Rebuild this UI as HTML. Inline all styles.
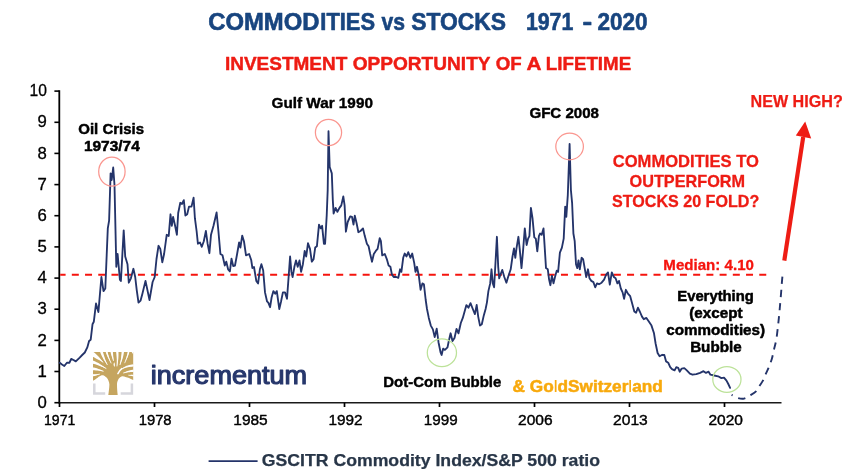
<!DOCTYPE html>
<html lang="en"><head><meta charset="utf-8"><title>Commodities vs Stocks 1971 - 2020</title>
<style>html,body{margin:0;padding:0;background:#fff}body{width:854px;height:469px;overflow:hidden}svg{display:block}text{font-family:"Liberation Sans",Arial,Helvetica,sans-serif}.b{font-weight:bold}.n{font-weight:normal}</style></head><body>
<svg width="854" height="469" viewBox="0 0 854 469" role="img" aria-label="Commodities vs Stocks 1971 - 2020">
<rect width="854" height="469" fill="#fff"/>
<g>
<text y="30.1" font-size="23.2" fill="#18457f" class="b" stroke="#18457f" stroke-width="0.6" stroke-linejoin="round"><tspan x="208.30" textLength="111.13" lengthAdjust="spacingAndGlyphs">COMMOD</tspan><tspan x="320.30" textLength="54.71" lengthAdjust="spacingAndGlyphs">ITIES</tspan> <tspan x="381.40" textLength="23.50" lengthAdjust="spacingAndGlyphs">vs</tspan> <tspan x="411.20" textLength="94.78" lengthAdjust="spacingAndGlyphs">STOCKS</tspan> <tspan x="525.90" textLength="47.39" lengthAdjust="spacingAndGlyphs">1971</tspan> <tspan x="582.40" textLength="9.71" lengthAdjust="spacingAndGlyphs">-</tspan> <tspan x="597.50" textLength="50.09" lengthAdjust="spacingAndGlyphs">2020</tspan></text>
<text y="70.4" font-size="18.5" fill="#ee1c14" class="b" stroke="#ee1c14" stroke-width="0.45" stroke-linejoin="round"><tspan x="224.93" textLength="122.35" lengthAdjust="spacingAndGlyphs">INVESTMENT</tspan> <tspan x="352.73" textLength="137.46" lengthAdjust="spacingAndGlyphs">OPPORTUNITY</tspan> <tspan x="495.73" textLength="25.97" lengthAdjust="spacingAndGlyphs">OF</tspan> <tspan x="526.52" textLength="14.24" lengthAdjust="spacingAndGlyphs">A</tspan> <tspan x="545.82" textLength="85.36" lengthAdjust="spacingAndGlyphs">LIFETIME</tspan></text>
<g stroke="#000" fill="none">
<path d="M59.3 90.3V403.4" stroke-width="1.8"/>
<path d="M59.3 402.7H781.5" stroke-width="1.5" stroke="#1a1a1a"/>
<path d="M54.4 402.7H59.3" stroke-width="1.6"/>
<path d="M54.4 371.5H59.3" stroke-width="1.6"/>
<path d="M54.4 340.4H59.3" stroke-width="1.6"/>
<path d="M54.4 309.2H59.3" stroke-width="1.6"/>
<path d="M54.4 278.1H59.3" stroke-width="1.6"/>
<path d="M54.4 246.9H59.3" stroke-width="1.6"/>
<path d="M54.4 215.7H59.3" stroke-width="1.6"/>
<path d="M54.4 184.6H59.3" stroke-width="1.6"/>
<path d="M54.4 153.4H59.3" stroke-width="1.6"/>
<path d="M54.4 122.3H59.3" stroke-width="1.6"/>
<path d="M54.4 91.1H59.3" stroke-width="1.6"/>
<path d="M59.5 402.7V407.0" stroke-width="1.7"/>
<path d="M154.5 402.7V407.0" stroke-width="1.7"/>
<path d="M249.5 402.7V407.0" stroke-width="1.7"/>
<path d="M344.5 402.7V407.0" stroke-width="1.7"/>
<path d="M439.5 402.7V407.0" stroke-width="1.7"/>
<path d="M534.5 402.7V407.0" stroke-width="1.7"/>
<path d="M629.5 402.7V407.0" stroke-width="1.7"/>
<path d="M724.5 402.7V407.0" stroke-width="1.7"/>
</g>
<text x="37.55" y="407.8" font-size="16.6" fill="#000" textLength="9.32" lengthAdjust="spacingAndGlyphs" stroke="#000" stroke-width="0.3" stroke-linejoin="round" xml:space="preserve">0</text>
<text x="37.55" y="376.6" font-size="16.6" fill="#000" textLength="9.32" lengthAdjust="spacingAndGlyphs" stroke="#000" stroke-width="0.3" stroke-linejoin="round" xml:space="preserve">1</text>
<text x="37.55" y="345.5" font-size="16.6" fill="#000" textLength="9.32" lengthAdjust="spacingAndGlyphs" stroke="#000" stroke-width="0.3" stroke-linejoin="round" xml:space="preserve">2</text>
<text x="37.55" y="314.3" font-size="16.6" fill="#000" textLength="9.32" lengthAdjust="spacingAndGlyphs" stroke="#000" stroke-width="0.3" stroke-linejoin="round" xml:space="preserve">3</text>
<text x="37.55" y="283.2" font-size="16.6" fill="#000" textLength="9.32" lengthAdjust="spacingAndGlyphs" stroke="#000" stroke-width="0.3" stroke-linejoin="round" xml:space="preserve">4</text>
<text x="37.55" y="252.0" font-size="16.6" fill="#000" textLength="9.32" lengthAdjust="spacingAndGlyphs" stroke="#000" stroke-width="0.3" stroke-linejoin="round" xml:space="preserve">5</text>
<text x="37.55" y="220.8" font-size="16.6" fill="#000" textLength="9.32" lengthAdjust="spacingAndGlyphs" stroke="#000" stroke-width="0.3" stroke-linejoin="round" xml:space="preserve">6</text>
<text x="37.55" y="189.7" font-size="16.6" fill="#000" textLength="9.32" lengthAdjust="spacingAndGlyphs" stroke="#000" stroke-width="0.3" stroke-linejoin="round" xml:space="preserve">7</text>
<text x="37.55" y="158.5" font-size="16.6" fill="#000" textLength="9.32" lengthAdjust="spacingAndGlyphs" stroke="#000" stroke-width="0.3" stroke-linejoin="round" xml:space="preserve">8</text>
<text x="37.55" y="127.4" font-size="16.6" fill="#000" textLength="9.32" lengthAdjust="spacingAndGlyphs" stroke="#000" stroke-width="0.3" stroke-linejoin="round" xml:space="preserve">9</text>
<text x="29.45" y="96.2" font-size="16.6" fill="#000" textLength="17.40" lengthAdjust="spacingAndGlyphs" stroke="#000" stroke-width="0.3" stroke-linejoin="round" xml:space="preserve">10</text>
<text x="44.00" y="424.8" font-size="14.7" fill="#000" textLength="31.30" lengthAdjust="spacingAndGlyphs" stroke="#000" stroke-width="0.4" stroke-linejoin="round" xml:space="preserve">1971</text>
<text x="138.70" y="424.8" font-size="14.7" fill="#000" textLength="32.90" lengthAdjust="spacingAndGlyphs" stroke="#000" stroke-width="0.4" stroke-linejoin="round" xml:space="preserve">1978</text>
<text x="233.30" y="424.8" font-size="14.7" fill="#000" textLength="34.40" lengthAdjust="spacingAndGlyphs" stroke="#000" stroke-width="0.4" stroke-linejoin="round" xml:space="preserve">1985</text>
<text x="328.50" y="424.8" font-size="14.7" fill="#000" textLength="34.10" lengthAdjust="spacingAndGlyphs" stroke="#000" stroke-width="0.4" stroke-linejoin="round" xml:space="preserve">1992</text>
<text x="423.80" y="424.8" font-size="14.7" fill="#000" textLength="33.80" lengthAdjust="spacingAndGlyphs" stroke="#000" stroke-width="0.4" stroke-linejoin="round" xml:space="preserve">1999</text>
<text x="518.00" y="424.8" font-size="14.7" fill="#000" textLength="34.60" lengthAdjust="spacingAndGlyphs" stroke="#000" stroke-width="0.4" stroke-linejoin="round" xml:space="preserve">2006</text>
<text x="613.10" y="424.8" font-size="14.7" fill="#000" textLength="34.70" lengthAdjust="spacingAndGlyphs" stroke="#000" stroke-width="0.4" stroke-linejoin="round" xml:space="preserve">2013</text>
<text x="708.40" y="424.8" font-size="14.7" fill="#000" textLength="34.50" lengthAdjust="spacingAndGlyphs" stroke="#000" stroke-width="0.4" stroke-linejoin="round" xml:space="preserve">2020</text>
<path d="M60.2 274.7H766.4" stroke="#f5140e" stroke-width="1.9" stroke-dasharray="7 6.22" stroke-dashoffset="1.6" fill="none"/>
<polyline points="59.7,362.7 62.0,364.5 64.3,366.0 66.9,362.7 69.5,362.7 71.2,358.9 73.5,360.0 75.8,361.4 79.7,357.6 82.2,355.0 84.8,352.5 87.3,347.4 89.1,341.0 90.7,339.7 92.5,324.3 93.8,321.8 96.0,303.5 98.4,312.0 101.4,277.0 103.5,291.1 105.3,288.5 107.8,228.4 109.1,220.7 110.6,173.4 111.7,180.0 113.2,167.5 114.5,185.0 116.3,266.8 117.6,254.0 119.9,279.6 120.9,281.0 123.7,230.4 125.2,256.5 127.5,264.2 128.8,282.7 130.9,278.3 133.4,268.8 135.2,277.0 136.7,289.8 138.5,302.6 140.6,300.6 142.4,293.7 145.5,280.9 149.5,300.0 152.6,282.0 154.7,277.0 156.5,259.0 158.5,245.8 160.3,248.9 162.3,262.4 164.1,254.0 166.7,234.8 168.7,236.0 170.5,214.3 171.8,225.8 173.1,216.9 175.1,225.8 176.9,234.8 178.2,213.0 180.3,202.8 182.0,204.0 183.8,200.2 185.4,215.6 187.2,214.3 189.0,206.6 191.5,206.6 193.6,197.7 194.9,218.2 196.6,231.0 197.9,243.7 200.0,242.5 201.8,246.8 203.8,241.2 205.9,231.0 207.6,243.7 209.4,253.2 211.0,234.8 213.5,225.8 216.6,212.5 218.4,231.0 220.4,254.0 222.5,255.3 224.8,265.5 226.3,261.7 228.1,269.3 229.9,271.4 231.5,258.6 233.2,266.0 235.0,265.5 237.1,254.0 239.1,242.5 240.4,247.6 242.2,235.6 244.0,241.5 246.0,255.3 249.1,254.0 251.2,260.0 252.4,268.0 254.0,267.0 256.3,280.9 258.1,283.4 259.9,269.3 261.4,264.2 263.2,270.6 265.0,292.4 267.0,301.3 268.3,302.6 270.1,307.2 271.6,297.5 273.4,291.1 275.2,293.7 276.8,291.1 279.3,309.0 281.1,301.3 282.9,292.4 285.0,292.4 287.0,298.8 288.8,274.5 290.1,256.5 291.4,271.9 292.6,277.0 294.4,266.8 296.0,260.4 297.7,266.8 299.5,260.4 301.1,271.9 302.9,264.2 304.7,250.9 306.2,256.5 308.0,243.2 310.0,248.9 311.8,261.7 313.6,259.1 315.2,247.6 316.9,246.3 319.0,224.6 320.8,228.4 322.1,225.8 323.9,243.7 325.1,243.7 326.7,215.6 327.7,190.0 328.5,131.2 329.7,167.0 331.8,173.4 332.8,200.0 333.6,213.5 335.6,207.9 337.4,211.8 339.5,207.9 341.3,205.4 343.3,196.4 344.6,205.4 345.9,231.7 347.7,222.0 350.2,216.4 352.0,216.9 353.5,224.6 354.8,215.6 356.6,223.3 358.4,232.2 360.5,231.0 363.0,228.4 364.8,236.1 366.9,243.7 368.6,246.3 370.2,254.0 372.0,261.7 373.8,254.0 375.8,250.9 377.6,248.9 379.7,238.1 380.9,241.2 382.2,255.3 384.8,254.0 386.8,259.1 388.6,265.5 390.4,266.8 391.9,274.5 393.7,277.0 396.3,277.0 398.3,277.8 400.1,269.3 401.4,271.9 403.2,257.8 404.7,253.5 406.5,256.5 408.3,252.2 410.4,257.8 412.2,253.5 414.2,262.9 415.5,271.9 417.0,266.8 418.8,275.7 420.6,289.8 422.4,283.4 423.9,284.2 425.7,300.0 427.0,309.0 428.8,317.9 430.8,325.6 432.9,329.4 434.7,337.1 436.7,328.7 438.5,342.2 440.6,352.5 441.6,355.0 443.1,348.6 444.9,349.9 447.5,347.4 448.8,341.0 450.6,333.3 452.5,341.0 454.5,338.0 456.5,329.0 458.5,333.3 460.8,323.0 462.8,317.9 464.6,311.5 466.4,305.1 468.5,307.7 470.5,303.1 472.8,309.0 474.9,314.1 476.7,305.0 478.2,316.6 480.0,325.6 481.8,324.3 483.8,315.4 485.6,309.0 486.9,302.6 488.4,291.1 490.2,283.4 491.5,269.3 492.8,283.4 494.1,287.3 495.4,264.2 496.9,236.8 498.2,266.8 499.2,278.3 500.5,274.5 502.3,269.9 504.3,277.0 506.4,282.7 508.1,277.0 510.7,269.3 512.5,256.5 514.0,248.4 515.3,257.8 516.6,247.6 518.4,236.8 519.7,248.9 521.5,268.1 523.0,251.4 524.8,228.4 526.6,245.0 528.1,238.6 529.4,236.1 530.9,207.9 532.5,218.2 534.3,237.4 535.8,238.6 537.3,251.4 538.9,236.1 540.1,233.5 541.7,234.8 543.5,228.4 544.8,248.9 546.0,268.1 547.8,269.3 549.1,279.6 550.4,285.2 551.9,275.7 553.5,283.4 555.0,277.0 556.8,270.6 558.1,271.9 559.9,252.7 561.9,247.6 563.7,238.6 565.2,206.6 566.3,216.9 567.8,195.1 569.6,144.0 570.9,190.0 572.1,202.8 573.4,233.5 574.7,241.2 576.0,264.2 577.3,268.1 578.5,260.4 579.8,269.3 581.6,257.8 583.1,259.1 584.9,269.3 586.2,277.0 588.0,269.3 589.5,278.3 591.3,280.9 593.4,282.1 595.2,287.3 597.0,283.4 599.0,284.2 601.6,282.7 604.1,279.6 606.2,274.5 608.0,272.4 609.8,284.7 611.8,272.4 613.9,277.0 615.6,278.3 617.4,283.4 619.0,280.9 620.8,288.5 622.6,292.4 624.1,298.8 625.9,289.8 627.9,293.7 630.2,296.2 632.3,304.0 634.3,311.5 636.1,312.8 637.9,307.7 640.0,312.0 642.0,316.6 643.8,319.2 646.4,317.9 649.0,321.8 651.5,325.6 654.0,333.3 655.6,343.5 657.6,353.0 659.6,356.3 662.3,354.8 664.3,355.0 666.1,361.4 668.2,362.7 670.2,367.1 672.0,369.1 674.6,370.4 676.3,367.1 678.2,367.8 679.7,371.7 681.7,368.6 684.3,368.1 686.8,370.4 689.9,373.7 692.5,374.7 696.3,374.2 700.1,372.9 703.5,371.2 706.0,372.9 708.6,371.7 710.4,374.7 714.2,375.5 718.1,376.3 721.4,378.1 724.0,377.6 726.5,380.6 728.3,384.0 730.1,387.8" fill="none" stroke="#24346a" stroke-width="1.85" stroke-linejoin="round" stroke-linecap="round"/>
<path d="M782.4 276.7C782.2 278.5 781.8 283.4 781.5 287.5C781.2 291.6 780.8 296.7 780.4 301C780.0 305.3 779.7 309.3 779.3 313.5C778.9 317.7 778.5 321.7 778 326C777.5 330.3 777.0 335.6 776.3 339.5C775.6 343.4 774.8 346.2 774 349.5C773.2 352.8 772.7 355.9 771.8 359C770.9 362.1 769.4 365.6 768.4 368.2C767.4 370.8 766.4 372.5 765.5 374.6C764.6 376.7 763.9 378.7 762.9 380.7C761.9 382.7 760.3 384.6 759.2 386.4C758.1 388.1 757.8 389.7 756.3 391.2C754.8 392.7 752.1 394.2 750.1 395.4C748.1 396.6 746.2 398.2 744.1 398.6C742.0 399.0 739.8 398.6 737.7 398C735.6 397.4 732.6 395.3 731.6 394.8" fill="none" stroke="#24346a" stroke-width="1.9" stroke-dasharray="7.3 5.9"/>
<g fill="none" stroke-width="1.25">
<ellipse cx="111.9" cy="171.6" rx="13.2" ry="14.6" stroke="#fa968f"/>
<ellipse cx="328.5" cy="132.5" rx="13.1" ry="13.1" stroke="#fa968f"/>
<ellipse cx="569.6" cy="146.5" rx="13.8" ry="13.3" stroke="#fa968f"/>
<ellipse cx="441.9" cy="352.7" rx="14.6" ry="13.9" stroke="#bce299"/>
<ellipse cx="726.9" cy="379.4" rx="14.1" ry="12.9" stroke="#bce299"/>
</g>
<path d="M784.3 260.6L803.2 137" stroke="#ee1c14" stroke-width="4.2" fill="none"/>
<path d="M805.2 121.6L795.8 135.6L811.2 138.6Z" fill="#ee1c14"/>
<text x="78.25" y="133.95" font-size="15.4" fill="#000" textLength="65.81" lengthAdjust="spacingAndGlyphs" class="b" stroke="#000" stroke-width="0.5" stroke-linejoin="round" xml:space="preserve">Oil Crisis</text>
<text x="83.95" y="151.25" font-size="15.0" fill="#000" textLength="55.80" lengthAdjust="spacingAndGlyphs" class="b" stroke="#000" stroke-width="0.5" stroke-linejoin="round" xml:space="preserve">1973/74</text>
<text x="271.50" y="107.9" font-size="15.1" fill="#000" textLength="101.39" lengthAdjust="spacingAndGlyphs" class="b" stroke="#000" stroke-width="0.4" stroke-linejoin="round" xml:space="preserve">Gulf War 1990</text>
<text x="529.42" y="117.7" font-size="15.4" fill="#000" textLength="69.56" lengthAdjust="spacingAndGlyphs" class="b" stroke="#000" stroke-width="0.45" stroke-linejoin="round" xml:space="preserve">GFC 2008</text>
<text x="383.30" y="386.95" font-size="13.8" fill="#000" textLength="118.01" lengthAdjust="spacingAndGlyphs" class="b" stroke="#000" stroke-width="0.4" stroke-linejoin="round" xml:space="preserve">Dot-Com Bubble</text>
<text x="677.25" y="300.7" font-size="15" fill="#000" textLength="76.61" lengthAdjust="spacingAndGlyphs" class="b" stroke="#000" stroke-width="0.5" stroke-linejoin="round" xml:space="preserve">Everything</text>
<text x="689.25" y="317.8" font-size="15" fill="#000" textLength="53.29" lengthAdjust="spacingAndGlyphs" class="b" stroke="#000" stroke-width="0.5" stroke-linejoin="round" xml:space="preserve">(except</text>
<text x="666.25" y="335.3" font-size="15" fill="#000" textLength="98.82" lengthAdjust="spacingAndGlyphs" class="b" stroke="#000" stroke-width="0.5" stroke-linejoin="round" xml:space="preserve">commodities)</text>
<text x="690.15" y="351.7" font-size="15" fill="#000" textLength="51.48" lengthAdjust="spacingAndGlyphs" class="b" stroke="#000" stroke-width="0.5" stroke-linejoin="round" xml:space="preserve">Bubble</text>
<text x="512.55" y="391.75" font-size="15.9" fill="#f8a90c" textLength="150.31" lengthAdjust="spacingAndGlyphs" class="b" stroke="#f8a90c" stroke-width="0.5" stroke-linejoin="round" xml:space="preserve">&amp; Go<tspan class="n" stroke-width="0.1">l</tspan>dSwitzer<tspan class="n" stroke-width="0.1">l</tspan>and</text>
<text x="612.75" y="167.1" font-size="16.4" fill="#ee1c14" textLength="146.10" lengthAdjust="spacingAndGlyphs" class="b" stroke="#ee1c14" stroke-width="0.3" stroke-linejoin="round" xml:space="preserve">COMMODITIES TO</text>
<text x="629.55" y="186.9" font-size="16.4" fill="#ee1c14" textLength="115.52" lengthAdjust="spacingAndGlyphs" class="b" stroke="#ee1c14" stroke-width="0.3" stroke-linejoin="round" xml:space="preserve">OUTPERFORM</text>
<text x="612.05" y="206.8" font-size="16.4" fill="#ee1c14" textLength="147.19" lengthAdjust="spacingAndGlyphs" class="b" stroke="#ee1c14" stroke-width="0.3" stroke-linejoin="round" xml:space="preserve">STOCKS 20 FOLD?</text>
<text x="663.35" y="270.4" font-size="15.3" fill="#f5140e" textLength="90.59" lengthAdjust="spacingAndGlyphs" class="b" stroke="#f5140e" stroke-width="0.3" stroke-linejoin="round" xml:space="preserve">Median: 4.10</text>
<text x="750.52" y="106.9" font-size="16.1" fill="#ee1c14" textLength="92.24" lengthAdjust="spacingAndGlyphs" class="b" stroke="#ee1c14" stroke-width="0.25" stroke-linejoin="round" xml:space="preserve">NEW HIGH?</text>
<g>
<path d="M94.3 383.6V393.4H105.2M131.9 383.6V393.4H120.7" fill="none" stroke="#d6d6dc" stroke-width="2.5"/>
<path d="M93 352H133.2V380C130 378.5 127.5 377.3 126.2 377.2C124 376.2 122.5 376 121.5 376.4C119.5 377.5 118.4 378.8 118.2 379.7C117.2 381.5 117 383 117 384.6C117 388 117.3 392 117.7 395.1H108.3C108.8 392 109.3 388 109.4 384.6C109.3 383 109 381.5 108.4 380.4C107.5 378.5 106.5 377.3 105.5 376.8C104 375.3 102.5 375 101.1 375.4C99 376.2 98 377.3 96.8 378.3C95.5 379.3 94.2 380.2 93 380.8Z" fill="#c5a55f"/>
<g fill="#fff" stroke="none">
<path d="M92.80 351.46L93.84 352.23L94.87 353.06L95.90 353.95L96.93 354.92L97.95 355.96L98.97 357.08L99.98 358.26L100.99 359.52L102.00 360.83L103.00 362.20L103.00 362.20L102.00 361.64L100.99 361.10L99.98 360.56L98.97 360.03L97.95 359.49L96.93 358.94L95.90 358.39L94.87 357.84L93.84 357.29L92.80 356.74Z"/>
<path d="M92.80 354.10Q98.00 357.30 103.00 362.20" fill="none" stroke="#fff" stroke-width="0.90" stroke-linecap="round"/>
<path d="M92.80 360.54L94.05 361.01L95.31 361.55L96.59 362.15L97.89 362.83L99.20 363.58L100.53 364.41L101.87 365.31L103.23 366.27L104.61 367.31L106.00 368.40L106.00 368.40L104.61 367.78L103.23 367.21L101.87 366.66L100.53 366.15L99.20 365.67L97.89 365.21L96.59 364.78L95.31 364.37L94.05 364.00L92.80 363.66Z"/>
<path d="M92.80 362.10Q99.00 364.00 106.00 368.40" fill="none" stroke="#fff" stroke-width="0.90" stroke-linecap="round"/>
<path d="M92.80 367.42L93.84 367.59L94.88 367.81L95.92 368.06L96.96 368.37L98.00 368.73L99.04 369.13L100.08 369.59L101.12 370.08L102.16 370.62L103.20 371.20L103.20 371.20L102.16 371.05L101.12 370.91L100.08 370.79L99.04 370.67L98.00 370.57L96.96 370.48L95.92 370.39L94.88 370.31L93.84 370.24L92.80 370.18Z"/>
<path d="M92.80 368.80Q98.00 369.30 103.20 371.20" fill="none" stroke="#fff" stroke-width="0.90" stroke-linecap="round"/>
<path d="M92.80 374.34L93.44 374.32L94.09 374.29L94.75 374.27L95.41 374.25L96.08 374.23L96.75 374.22L97.43 374.22L98.11 374.21L98.80 374.21L99.50 374.20L99.50 374.20L98.80 374.50L98.11 374.79L97.43 375.05L96.75 375.30L96.08 375.52L95.41 375.71L94.75 375.88L94.09 376.03L93.44 376.15L92.80 376.26Z"/>
<path d="M92.80 375.30Q96.00 375.00 99.50 374.20" fill="none" stroke="#fff" stroke-width="0.80" stroke-linecap="round"/>
<path d="M100.06 351.80L100.50 353.04L101.00 354.30L101.56 355.56L102.18 356.82L102.86 358.10L103.61 359.38L104.42 360.68L105.29 361.98L106.22 363.28L107.20 364.60L107.20 364.60L106.66 363.28L106.16 361.98L105.68 360.68L105.22 359.38L104.79 358.10L104.37 356.82L103.98 355.56L103.61 354.30L103.26 353.04L102.94 351.80Z"/>
<path d="M101.50 351.80Q103.30 358.00 107.20 364.60" fill="none" stroke="#fff" stroke-width="0.90" stroke-linecap="round"/>
<path d="M105.64 351.80L105.98 352.85L106.35 353.91L106.78 354.99L107.24 356.09L107.76 357.20L108.32 358.33L108.93 359.47L109.58 360.63L110.27 361.81L111.00 363.00L111.00 363.00L110.56 361.81L110.15 360.63L109.76 359.47L109.39 358.33L109.04 357.20L108.71 356.09L108.39 354.99L108.09 353.91L107.82 352.85L107.56 351.80Z"/>
<path d="M106.60 351.80Q108.00 357.00 111.00 363.00" fill="none" stroke="#fff" stroke-width="0.80" stroke-linecap="round"/>
<path d="M110.50 351.80L110.68 352.64L110.87 353.49L111.10 354.35L111.35 355.21L111.62 356.07L111.93 356.95L112.26 357.83L112.62 358.71L113.00 359.60L113.40 360.50L113.40 360.50L113.37 359.60L113.34 358.71L113.31 357.83L113.27 356.95L113.23 356.07L113.17 355.21L113.11 354.35L113.05 353.49L112.97 352.64L112.90 351.80Z"/>
<path d="M111.70 351.80Q112.30 356.00 113.40 360.50" fill="none" stroke="#fff" stroke-width="0.90" stroke-linecap="round"/>
<path d="M116.16 351.80L116.31 353.24L116.45 354.67L116.57 356.10L116.67 357.53L116.76 358.95L116.84 360.37L116.91 361.78L116.96 363.19L116.99 364.60L117.00 366.00L117.00 366.00L117.34 364.60L117.64 363.19L117.90 361.78L118.12 360.37L118.29 358.95L118.41 357.53L118.48 356.10L118.51 354.67L118.50 353.24L118.44 351.80Z"/>
<path d="M117.30 351.80Q117.90 359.00 117.00 366.00" fill="none" stroke="#fff" stroke-width="0.90" stroke-linecap="round"/>
<path d="M121.60 351.80L121.53 353.04L121.44 354.30L121.34 355.56L121.21 356.82L121.07 358.10L120.92 359.38L120.74 360.68L120.55 361.98L120.34 363.28L120.10 364.60L120.10 364.60L120.71 363.28L121.27 361.98L121.79 360.68L122.26 359.38L122.68 358.10L123.04 356.82L123.36 355.56L123.62 354.30L123.83 353.04L124.00 351.80Z"/>
<path d="M122.80 351.80Q122.30 358.00 120.10 364.60" fill="none" stroke="#fff" stroke-width="0.90" stroke-linecap="round"/>
<path d="M127.76 351.80L127.54 352.85L127.30 353.90L127.05 354.97L126.78 356.06L126.49 357.15L126.19 358.26L125.87 359.37L125.53 360.50L125.18 361.65L124.80 362.80L124.80 362.80L125.43 361.65L126.04 360.50L126.60 359.37L127.13 358.26L127.61 357.15L128.06 356.06L128.46 354.97L128.83 353.90L129.15 352.85L129.44 351.80Z"/>
<path d="M128.60 351.80Q127.40 357.00 124.80 362.80" fill="none" stroke="#fff" stroke-width="0.70" stroke-linecap="round"/>
<path d="M133.40 364.20L131.94 364.40L130.54 364.66L129.18 364.99L127.86 365.40L126.60 365.87L125.38 366.42L124.22 367.04L123.10 367.73L122.02 368.48L121.00 369.30L121.00 369.30L122.02 368.85L123.10 368.45L124.22 368.09L125.38 367.76L126.60 367.48L127.86 367.23L129.18 367.01L130.54 366.84L131.94 366.70L133.40 366.60Z"/>
<path d="M133.40 365.40Q126.00 366.00 121.00 369.30" fill="none" stroke="#fff" stroke-width="0.90" stroke-linecap="round"/>
<path d="M133.40 369.66L132.42 369.78L131.44 369.95L130.46 370.16L129.48 370.41L128.50 370.71L127.52 371.06L126.54 371.46L125.56 371.90L124.58 372.38L123.60 372.90L123.60 372.90L124.58 372.73L125.56 372.58L126.54 372.45L127.52 372.34L128.50 372.24L129.48 372.15L130.46 372.07L131.44 372.01L132.42 371.97L133.40 371.94Z"/>
<path d="M133.40 370.80Q128.50 371.10 123.60 372.90" fill="none" stroke="#fff" stroke-width="0.90" stroke-linecap="round"/>
<path d="M133.40 374.82L132.92 374.80L132.44 374.78L131.96 374.78L131.48 374.80L131.00 374.83L130.52 374.88L130.04 374.94L129.56 375.01L129.08 375.10L128.60 375.20L128.60 375.20L129.08 375.34L129.56 375.48L130.04 375.62L130.52 375.75L131.00 375.87L131.48 375.99L131.96 376.09L132.44 376.19L132.92 376.29L133.40 376.38Z"/>
<path d="M133.40 375.60Q131.00 375.30 128.60 375.20" fill="none" stroke="#fff" stroke-width="0.65" stroke-linecap="round"/>
<path d="M121.8 368.6C120.3 369.7 119 371.4 117.9 373.6" fill="none" stroke="#fff" stroke-width="1.5" stroke-linecap="round"/>
<path d="M114.3 362.2C113.2 364 113.3 365.3 114.5 367C115.2 365.2 115.1 364 114.3 362.2Z"/>
<path d="M133.2 352H131.6L133.2 354.2Z"/>
</g></g>
<text x="150.80" y="383.6" font-size="26.4" fill="#27376c" textLength="156.30" lengthAdjust="spacingAndGlyphs" stroke="#27376c" stroke-width="1.2" stroke-linejoin="round" xml:space="preserve">incrementum</text>
<path d="M208.6 461.1H257.6" stroke="#24346a" stroke-width="1.9"/>
<text x="261.82" y="466.3" font-size="16.1" fill="#283648" textLength="338.16" lengthAdjust="spacingAndGlyphs" class="b" stroke="#283648" stroke-width="0.25" stroke-linejoin="round" xml:space="preserve">GSCITR Commodity Index/S&amp;P 500 ratio</text>
</g>
</svg></body></html>
